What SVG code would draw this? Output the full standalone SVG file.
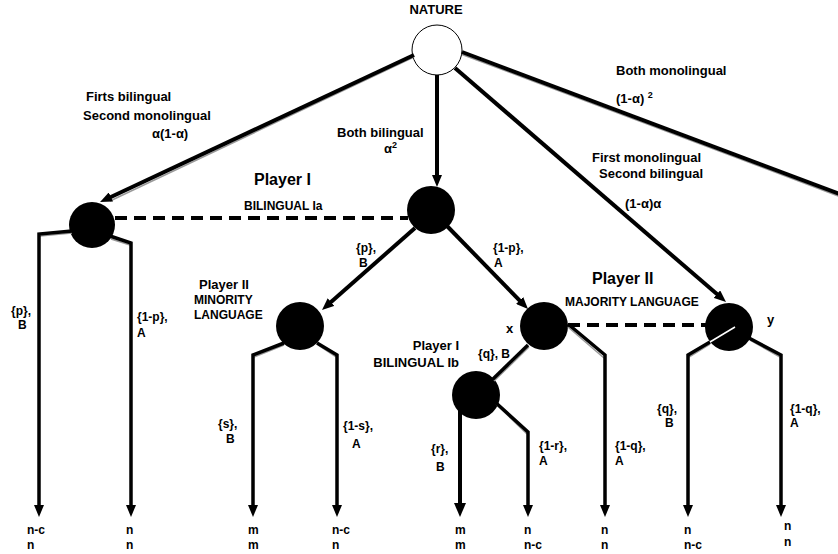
<svg xmlns="http://www.w3.org/2000/svg" width="838" height="554" viewBox="0 0 838 554">
<defs>
<style>
text{font-family:"Liberation Sans",Arial,sans-serif;font-weight:bold;fill:#000}
.t{font-size:13px}
.s{font-size:12px}
.h{font-size:16px}
.ln{fill:none;stroke:#000;stroke-width:4}
.lf{fill:none;stroke:#000;stroke-width:3.5;stroke-linejoin:miter}
.sh{fill:none;stroke:#999;stroke-width:1.5}
.dash{fill:none;stroke:#000;stroke-width:4;stroke-dasharray:12 7}
.node{fill:#000}
</style>
<marker id="ah" markerUnits="userSpaceOnUse" viewBox="0 0 12 10" markerWidth="12" markerHeight="10" refX="3" refY="5" orient="auto">
<path d="M0,0 L12,5 L0,10 z" fill="#000"/>
</marker>
<marker id="ahb" markerUnits="userSpaceOnUse" viewBox="0 0 14 12" markerWidth="14" markerHeight="12" refX="3" refY="6" orient="auto">
<path d="M0,0 L14,6 L0,12 z" fill="#000"/>
</marker>
</defs>
<rect width="838" height="554" fill="#fff"/>

<g id="nodes">
<g id="nature"><circle cx="437" cy="50" r="25" fill="#fff" stroke="#000" stroke-width="1"/><text class="t" x="436" y="14" text-anchor="middle">NATURE</text></g>
<g id="player1a"><circle class="node" cx="92" cy="225" r="23"/></g>
<g id="player1center"><circle class="node" cx="431" cy="210" r="24"/></g>
<g id="player2minority"><circle class="node" cx="300" cy="326" r="24"/></g>
<g id="player2x"><circle class="node" cx="544" cy="326" r="24"/></g>
<g id="player2y"><circle class="node" cx="729" cy="327" r="24"/></g>
<g id="player1b"><circle class="node" cx="476" cy="395" r="24"/></g>
</g>

<g id="connectors">
<path class="sh" d="M414,57 L110,201"/>
<path class="ln" d="M414,55 L108.2,198.2" marker-end="url(#ah)"/>
<path class="ln" d="M437,75 L437,178" marker-end="url(#ah)"/>
<path class="ln" d="M455,68 L719.2,296.1" marker-end="url(#ah)"/>
<path class="sh" d="M462,54.5 L845,198.5"/>
<path class="ln" d="M462,52 L845,196" stroke-width="3"/>
<path class="ln" d="M415,228 L328.75,304.05" marker-end="url(#ah)"/>
<path class="ln" d="M447,226 L521.7,302.6" marker-end="url(#ah)"/>
<path class="dash" d="M115,218 L408,218"/>
<path class="dash" d="M568,325 L706,325"/>
<path class="sh" d="M72,233 L40,236"/>
<path class="lf" d="M72,231 L39,234 L39,508" marker-end="url(#ah)"/>
<path class="sh" d="M111,239 L130,245"/>
<path class="lf" d="M110,236 L131,243 L131,508" marker-end="url(#ah)"/>
<path class="sh" d="M284,345 L254,357"/>
<path class="lf" d="M284,343 L253,355 L253,508" marker-end="url(#ah)"/>
<path class="sh" d="M318,345 L336,357"/>
<path class="lf" d="M317,343 L337,355 L337,508" marker-end="url(#ah)"/>
<path class="sh" d="M568,327 L604,358"/>
<path class="lf" d="M568,324 L605,355 L605,508" marker-end="url(#ah)"/>
<path class="sh" d="M529,347 L494,381"/>
<path class="lf" d="M528,345 L493,379"/>
<path class="ln" d="M460,410 L460,506" stroke-width="4.5" marker-end="url(#ahb)"/>
<path class="sh" d="M496,404 L527,434"/>
<path class="lf" d="M495,402 L528,432 L528,508" marker-end="url(#ah)"/>
<path d="M735,327 L710,342" stroke="#fff" stroke-width="1.5"/>
<path class="sh" d="M710,344 L689,357"/>
<path class="lf" d="M710,342 L688,355 L688,508" marker-end="url(#ah)"/>
<path class="sh" d="M750,340 L780,357"/>
<path class="lf" d="M749,338 L781,355 L781,508" marker-end="url(#ah)"/>
</g>

<g id="labels">
<text class="t" x="86" y="101">Firts bilingual</text>
<text class="t" x="83" y="120">Second monolingual</text>
<text class="t" x="152" y="138">α(1-α)</text>
<text class="t" x="337" y="137">Both bilingual</text>
<text class="t" x="384" y="153">α<tspan font-size="9" dy="-5">2</tspan></text>
<text class="h" x="254" y="185">Player I</text>
<text class="s" x="244" y="210">BILINGUAL Ia</text>
<text class="t" x="616" y="75">Both monolingual</text>
<text class="t" x="616" y="103">(1-α) <tspan font-size="9" dy="-5">2</tspan></text>
<text class="t" x="592" y="162">First monolingual</text>
<text class="t" x="599" y="178">Second bilingual</text>
<text class="t" x="625" y="208">(1-α)α</text>

<text class="s" x="356" y="252">{p},</text>
<text class="s" x="359" y="267">B</text>
<text class="s" x="493" y="252">{1-p},</text>
<text class="s" x="494" y="267">A</text>
<text class="h" x="592" y="284">Player II</text>
<text class="s" x="565" y="306">MAJORITY LANGUAGE</text>
<text class="t" x="199" y="289">Player II</text>
<text class="s" x="194" y="304">MINORITY</text>
<text class="s" x="194" y="319">LANGUAGE</text>
<text class="t" x="506" y="333">x</text>
<text class="t" x="767" y="324">y</text>
<text class="t" x="459" y="350" text-anchor="end">Player I</text>
<text class="t" x="459" y="367" text-anchor="end">BILINGUAL Ib</text>
<text class="s" x="478" y="358">{q}, B</text>

<text class="s" x="11" y="315">{p},</text>
<text class="s" x="18" y="329">B</text>
<text class="s" x="137" y="321">{1-p},</text>
<text class="s" x="137" y="337">A</text>
<text class="s" x="218" y="428">{s},</text>
<text class="s" x="226" y="443">B</text>
<text class="s" x="343" y="430">{1-s},</text>
<text class="s" x="352" y="448">A</text>
<text class="s" x="431" y="453">{r},</text>
<text class="s" x="436" y="471">B</text>
<text class="s" x="539" y="450">{1-r},</text>
<text class="s" x="539" y="465">A</text>
<text class="s" x="615" y="450">{1-q},</text>
<text class="s" x="615" y="465">A</text>
<text class="s" x="657" y="413">{q},</text>
<text class="s" x="665" y="427">B</text>
<text class="s" x="790" y="413">{1-q},</text>
<text class="s" x="790" y="427">A</text>

<text class="s" x="27" y="534">n-c</text><text class="s" x="27" y="549">n</text>
<text class="s" x="126" y="534">n</text><text class="s" x="126" y="549">n</text>
<text class="s" x="248" y="534">m</text><text class="s" x="248" y="549">m</text>
<text class="s" x="332" y="534">n-c</text><text class="s" x="332" y="549">n</text>
<text class="s" x="455" y="534">m</text><text class="s" x="455" y="549">m</text>
<text class="s" x="524" y="534">n</text><text class="s" x="524" y="549">n-c</text>
<text class="s" x="601" y="534">n</text><text class="s" x="601" y="549">n</text>
<text class="s" x="684" y="534">n</text><text class="s" x="684" y="549">n-c</text>
<text class="s" x="784" y="530">n</text><text class="s" x="784" y="546">n</text>
</g>
</svg>
